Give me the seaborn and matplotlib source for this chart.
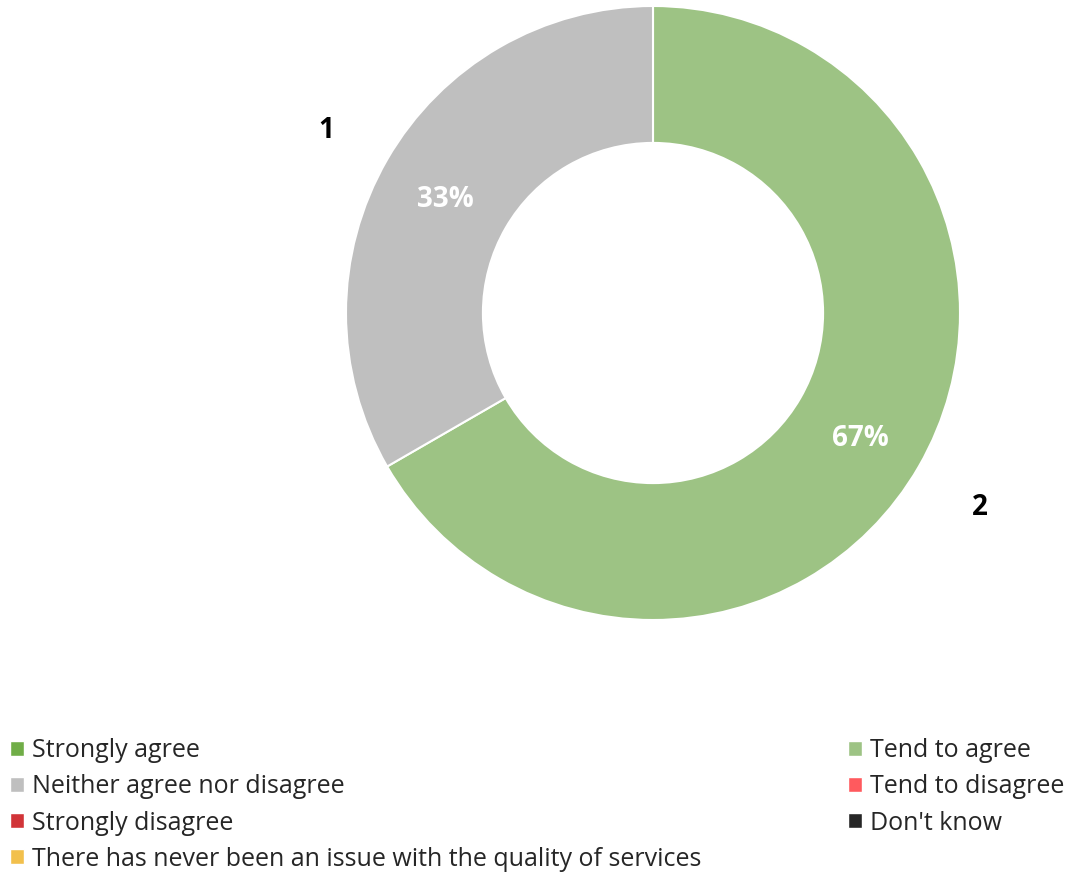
import matplotlib
matplotlib.use("Agg")
import matplotlib.pyplot as plt
from matplotlib.patches import Patch
import numpy as np
import seaborn as sns

categories = ["Strongly agree", "Tend to agree", "Neither agree nor disagree",
              "Tend to disagree", "Strongly disagree", "Don't know",
              "There has never been an issue with the quality of services"]
counts = [0, 2, 1, 0, 0, 0, 0]
colors = ["#70AD47", "#9DC384", "#BFBFBF", "#FF5A5E", "#D13438", "#262626", "#F2C04C"]

sns.set_theme(style="white")
plt.rcParams['font.family'] = ['Open Sans', 'DejaVu Sans']

fig = plt.figure(figsize=(10.72, 8.72), dpi=100)
ax = fig.add_axes([346/1072, (872-620)/872, 614/1072, 614/872])

vals = [(c, v, col) for c, v, col in zip(categories, counts, colors) if v > 0]
total = sum(v for _, v, _ in vals)
wedges, _ = ax.pie([v for _, v, _ in vals], colors=[col for _, _, col in vals],
                   startangle=90, counterclock=False, radius=1.0,
                   wedgeprops=dict(width=0.446, edgecolor="white", linewidth=1.5))
for w, (c, v, col) in zip(wedges, vals):
    ang = np.deg2rad((w.theta1 + w.theta2) / 2)
    r_in = 0.78
    ax.text(r_in*np.cos(ang), r_in*np.sin(ang) - 0.02, f"{round(100*v/total)}%",
            ha="center", va="center", color="white", fontsize=20, fontweight="bold")
    r_out = 1.23
    ax.text(r_out*np.cos(ang), r_out*np.sin(ang) - 0.02, f"{v}",
            ha="center", va="center", color="black", fontsize=20, fontweight="bold")
ax.set_xlim(-1, 1)
ax.set_ylim(-1, 1)
ax.set_aspect("equal")
ax.axis("off")

left_idx = [0, 2, 4, 6]
right_idx = [1, 3, 5]
common = dict(frameon=False, fontsize=18, handlelength=0.55, handleheight=0.55,
              handletextpad=0.35, labelspacing=0.45, borderpad=0, borderaxespad=0,
              labelcolor="#262626")
leg1 = fig.legend([Patch(facecolor=colors[i]) for i in left_idx],
                  [categories[i] for i in left_idx],
                  loc="upper left", bbox_to_anchor=(10/1072, 1-738/872), **common)
leg2 = fig.legend([Patch(facecolor=colors[i]) for i in right_idx],
                  [categories[i] for i in right_idx],
                  loc="upper left", bbox_to_anchor=(848/1072, 1-738/872), **common)

fig.savefig("out.png", dpi=100)
